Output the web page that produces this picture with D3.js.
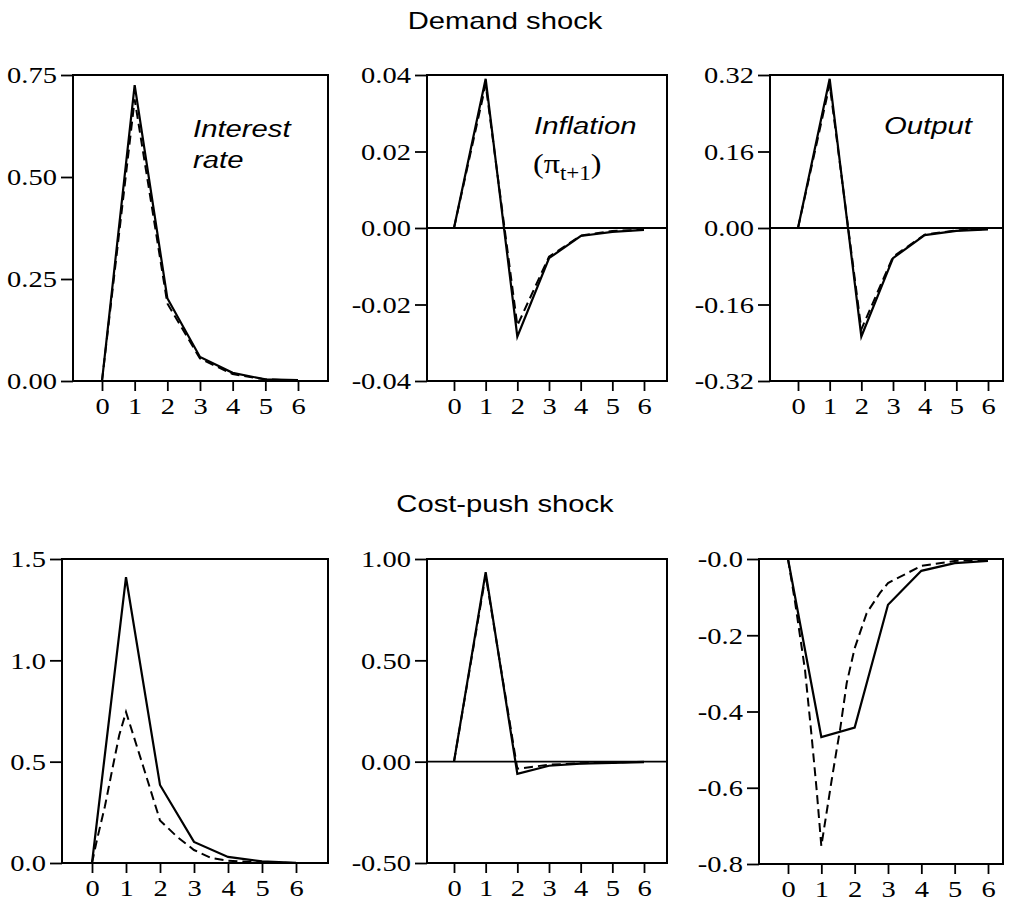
<!DOCTYPE html>
<html>
<head>
<meta charset="utf-8">
<script src="https://cdn.jsdelivr.net/npm/d3@7"></script>
<style>
  body { margin: 0; background: #fff; }
  svg { display: block; }
</style>
</head>
<body>
<div id="chart"></div>
<script>
// periods after the shock
const periods = [0, 1, 2, 3, 4, 5, 6];

// demand shock, solid = one rule, dashed = the other
const demandRateSolid = [0, 0.725, 0.203, 0.059, 0.02, 0.004, 0.002];
const demandRateDashed = [0, 0.69, 0.19, 0.055, 0.017, 0.004, 0.001];
const demandInflSolid = [0, 0.039, -0.0284, -0.0079, -0.0021, -0.001, -0.0005];
const demandInflDashed = [0, 0.0375, -0.0255, -0.0075, -0.002, -0.0008, -0.0004];
const demandOutputSolid = [0, 0.312, -0.227, -0.063, -0.015, -0.006, -0.003];
const demandOutputDashed = [0, 0.3, -0.212, -0.06, -0.014, -0.005, -0.002];

// cost-push shock
const costRateSolid = [0, 1.41, 0.385, 0.104, 0.03, 0.008, 0.001];
const costRateDashedT = [0, 0.14, 0.38, 0.63, 0.8, 1, 1.5, 2, 2.5, 3, 3.5, 4, 5, 6];
const costRateDashed = [0, 0.11, 0.28, 0.49, 0.63, 0.745, 0.48, 0.21, 0.13, 0.064, 0.025, 0.011, 0.003, 0];
const costInflSolid = [0, 0.935, -0.06, -0.02, -0.01, -0.006, -0.002];
const costInflDashed = [0, 0.92, -0.035, -0.015, -0.008, -0.004, -0.001];
const costOutputSolid = [0, -0.467, -0.442, -0.12, -0.031, -0.011, -0.005];
const costOutputDashedT = [0, 0.21, 0.51, 0.71, 0.86, 1, 1.31, 1.46, 1.56, 1.76, 2, 2.36, 2.76, 3, 4, 5, 6];
const costOutputDashed = [0, -0.112, -0.291, -0.466, -0.606, -0.753, -0.58, -0.5, -0.449, -0.326, -0.234, -0.142, -0.089, -0.063, -0.018, -0.005, -0.002];

// y ticks
const rateTicksTop = [0, 0.25, 0.5, 0.75];
const rateLabelsTop = ["0.00", "0.25", "0.50", "0.75"];
const inflTicksTop = [-0.04, -0.02, 0, 0.02, 0.04];
const inflLabelsTop = ["-0.04", "-0.02", "0.00", "0.02", "0.04"];
const outputTicksTop = [-0.32, -0.16, 0, 0.16, 0.32];
const outputLabelsTop = ["-0.32", "-0.16", "0.00", "0.16", "0.32"];
const rateTicksBottom = [0, 0.5, 1.0, 1.5];
const rateLabelsBottom = ["0.0", "0.5", "1.0", "1.5"];
const inflTicksBottom = [-0.5, 0, 0.5, 1.0];
const inflLabelsBottom = ["-0.50", "0.00", "0.50", "1.00"];
const outputTicksBottom = [-0.8, -0.6, -0.4, -0.2, 0];
const outputLabelsBottom = ["-0.8", "-0.6", "-0.4", "-0.2", "-0.0"];

const W = 1010, H = 903;
const SX = 1.24; // the original type is stretched sideways
const serif = "'Liberation Serif', 'Times New Roman', serif";
const sans = "'Liberation Sans', Arial, sans-serif";

const svg = d3.select("#chart").append("svg")
  .attr("width", W).attr("height", H);

const panels = [
  { left: 73, right: 328, top: 75, bottom: 381, x0: 102, x6: 298, domain: [0, 0.75],
    ticks: rateTicksTop, labels: rateLabelsTop, zero: false,
    solid: demandRateSolid, dashedT: periods, dashed: demandRateDashed },
  { left: 427, right: 667, top: 75, bottom: 381, x0: 454, x6: 644, domain: [-0.04, 0.04],
    ticks: inflTicksTop, labels: inflLabelsTop, zero: true,
    solid: demandInflSolid, dashedT: periods, dashed: demandInflDashed },
  { left: 770, right: 1003, top: 75, bottom: 381, x0: 798, x6: 988, domain: [-0.32, 0.32],
    ticks: outputTicksTop, labels: outputLabelsTop, zero: true,
    solid: demandOutputSolid, dashedT: periods, dashed: demandOutputDashed },
  { left: 62, right: 328, top: 559, bottom: 863, x0: 92, x6: 296, domain: [0, 1.5],
    ticks: rateTicksBottom, labels: rateLabelsBottom, zero: false,
    solid: costRateSolid, dashedT: costRateDashedT, dashed: costRateDashed },
  { left: 427, right: 667, top: 559, bottom: 863, x0: 454, x6: 644, domain: [-0.5, 1.0],
    ticks: inflTicksBottom, labels: inflLabelsBottom, zero: true,
    solid: costInflSolid, dashedT: periods, dashed: costInflDashed },
  { left: 759, right: 1003, top: 559, bottom: 864, x0: 788, x6: 988, domain: [-0.8, 0],
    ticks: outputTicksBottom, labels: outputLabelsBottom, zero: false,
    solid: costOutputSolid, dashedT: costOutputDashedT, dashed: costOutputDashed }
];

panels.forEach((p) => {
  const x = d3.scaleLinear().domain([0, 6]).range([p.x0, p.x6]);
  const y = d3.scaleLinear().domain(p.domain).range([p.bottom, p.top]);
  const g = svg.append("g");

  // y axis
  const yAxis = g.append("g")
    .attr("transform", `translate(${p.left},0)`)
    .call(d3.axisLeft(y).tickValues(p.ticks).tickSize(12).tickSizeOuter(0)
      .tickFormat((d, i) => p.labels[i]));
  yAxis.select(".domain").remove();
  yAxis.selectAll("line").attr("stroke", "#000").attr("stroke-width", 1.8);
  yAxis.selectAll("text")
    .attr("x", -16 / SX).attr("dy", "0.34em")
    .attr("transform", `scale(${SX},1)`)
    .style("font-family", serif).style("font-size", "23px").attr("fill", "#000");

  // x axis
  const xAxis = g.append("g")
    .attr("transform", `translate(0,${p.bottom})`)
    .call(d3.axisBottom(x).tickValues(periods).tickSize(10).tickSizeOuter(0)
      .tickFormat(d3.format("d")));
  xAxis.select(".domain").remove();
  xAxis.selectAll("line").attr("stroke", "#000").attr("stroke-width", 1.8);
  xAxis.selectAll("text")
    .attr("y", 17).attr("dy", "0.71em").attr("x", 0)
    .attr("transform", `scale(${SX},1)`)
    .style("font-family", serif).style("font-size", "23px").attr("fill", "#000");

  // frame
  g.append("rect")
    .attr("x", p.left).attr("y", p.top)
    .attr("width", p.right - p.left).attr("height", p.bottom - p.top)
    .attr("fill", "none").attr("stroke", "#000").attr("stroke-width", 2);

  if (p.zero) {
    g.append("line")
      .attr("x1", p.left).attr("x2", p.right)
      .attr("y1", y(0)).attr("y2", y(0))
      .attr("stroke", "#000").attr("stroke-width", 1.8);
  }

  const line = d3.line().x((d) => x(d[0])).y((d) => y(d[1]));

  g.append("path")
    .attr("d", line(p.dashedT.map((t, i) => [t, p.dashed[i]])))
    .attr("fill", "none").attr("stroke", "#000").attr("stroke-width", 2)
    .attr("stroke-dasharray", "9,5");

  g.append("path")
    .attr("d", line(periods.map((t, i) => [t, p.solid[i]])))
    .attr("fill", "none").attr("stroke", "#000").attr("stroke-width", 2.2);
});

// row titles
const titles = [
  { text: "Demand shock", x: 505, y: 29 },
  { text: "Cost-push shock", x: 505, y: 512 }
];
titles.forEach((t) => {
  svg.append("text")
    .attr("transform", `translate(${t.x},${t.y}) scale(1.27,1)`)
    .attr("text-anchor", "middle")
    .style("font-family", sans).style("font-size", "23px")
    .text(t.text);
});

// variable names inside the top panels
const italicLabel = (txt, x, y) => svg.append("text")
  .attr("transform", `translate(${x},${y}) scale(1.22,1)`)
  .style("font-family", sans).style("font-style", "italic").style("font-size", "24px")
  .text(txt);
italicLabel("Interest", 193, 137);
italicLabel("rate", 193, 168);
italicLabel("Inflation", 534, 134);
italicLabel("Output", 884, 134);

const pi = svg.append("text")
  .attr("transform", `translate(533,173) scale(1.15,1)`)
  .style("font-family", serif).style("font-size", "28px");
pi.append("tspan").text("(\u03c0");
pi.append("tspan").attr("dy", 7).style("font-size", "20px").text("t+1");
pi.append("tspan").attr("dy", -7).text(")");
</script>
</body>
</html>
